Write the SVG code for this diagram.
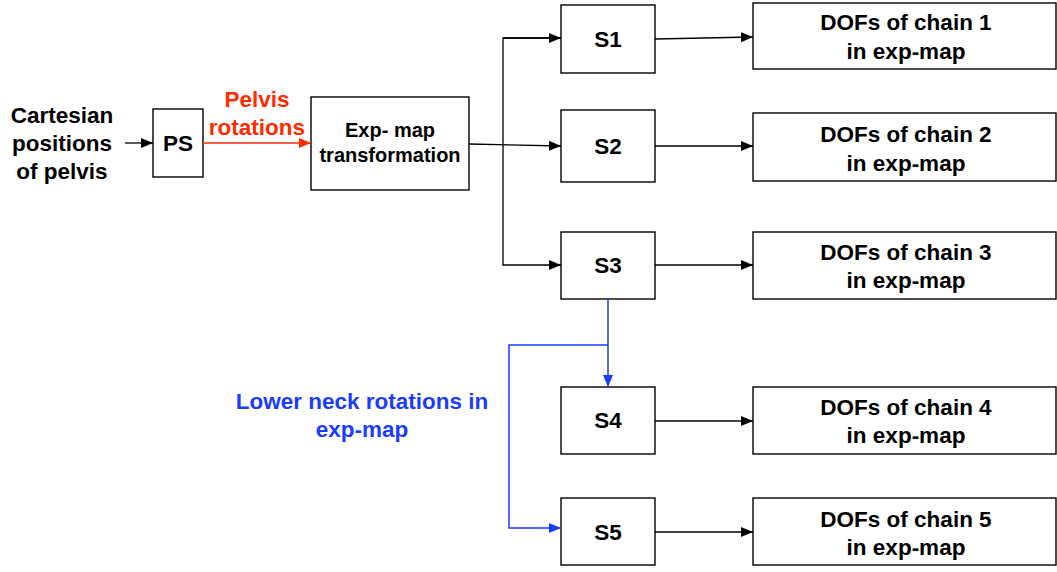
<svg xmlns="http://www.w3.org/2000/svg" width="1057" height="572" viewBox="0 0 1057 572">
<style>
.box{fill:#fff;stroke:#000;stroke-width:1.4}
.t{font-family:"Liberation Sans",Arial,sans-serif;font-weight:bold;font-size:22.5px;text-anchor:middle;fill:#000}
.c{fill:none;stroke:#000;stroke-width:1.3}
.r{fill:none;stroke:#ff2a00;stroke-width:1.5}
.b{fill:none;stroke:#1a3cff;stroke-width:1.5}
</style>
<defs>
<marker id="ak" markerWidth="12" markerHeight="10" refX="12" refY="5" orient="auto" markerUnits="userSpaceOnUse"><path d="M0,0 L12,5 L0,10 Z" fill="#000"/></marker>
<marker id="ar" markerWidth="12" markerHeight="10" refX="12" refY="5" orient="auto" markerUnits="userSpaceOnUse"><path d="M0,0 L12,5 L0,10 Z" fill="#ff2a00"/></marker>
<marker id="ab" markerWidth="12" markerHeight="10" refX="12" refY="5" orient="auto" markerUnits="userSpaceOnUse"><path d="M0,0 L12,5 L0,10 Z" fill="#1a3cff"/></marker>
</defs>
<g id="input-label"><text class="t" x="62" y="123">Cartesian</text><text class="t" x="62" y="151">positions</text><text class="t" x="62" y="179">of pelvis</text></g>
<g id="PS"><rect class="box" x="153" y="109" width="50" height="68"/><text class="t" x="178" y="151">PS</text></g>
<g id="pelvis-label"><text class="t" x="257" y="107" style="fill:#ff2a00">Pelvis</text><text class="t" x="257" y="135" style="fill:#ff2a00">rotations</text></g>
<g id="expmap"><rect class="box" x="311" y="97" width="158" height="93"/><text class="t" x="390" y="137" style="font-size:20px">Exp- map</text><text class="t" x="390" y="162" style="font-size:20px">transformation</text></g>
<g id="S1"><rect class="box" x="561" y="5" width="94" height="68"/><text class="t" x="608" y="47">S1</text></g>
<g id="S2"><rect class="box" x="561" y="110" width="94" height="72"/><text class="t" x="608" y="154">S2</text></g>
<g id="S3"><rect class="box" x="561" y="232" width="94" height="67"/><text class="t" x="608" y="273">S3</text></g>
<g id="S4"><rect class="box" x="561" y="387" width="94" height="67"/><text class="t" x="608" y="428">S4</text></g>
<g id="S5"><rect class="box" x="561" y="498" width="94" height="67"/><text class="t" x="608" y="540">S5</text></g>
<g id="D1"><rect class="box" x="753" y="3" width="303" height="66"/><text class="t" x="906" y="30">DOFs of chain 1</text><text class="t" x="906" y="59">in exp-map</text></g>
<g id="D2"><rect class="box" x="753" y="113" width="303" height="68"/><text class="t" x="906" y="142">DOFs of chain 2</text><text class="t" x="906" y="171">in exp-map</text></g>
<g id="D3"><rect class="box" x="753" y="232" width="303" height="67"/><text class="t" x="906" y="260">DOFs of chain 3</text><text class="t" x="906" y="288">in exp-map</text></g>
<g id="D4"><rect class="box" x="753" y="387" width="303" height="67"/><text class="t" x="906" y="415">DOFs of chain 4</text><text class="t" x="906" y="443">in exp-map</text></g>
<g id="D5"><rect class="box" x="753" y="498" width="303" height="67"/><text class="t" x="906" y="527">DOFs of chain 5</text><text class="t" x="906" y="555">in exp-map</text></g>
<g id="neck-label"><text class="t" x="362" y="409" style="fill:#1a3cff">Lower neck rotations in</text><text class="t" x="362" y="437" style="fill:#1a3cff">exp-map</text></g>
<g id="connectors">
<path class="c" d="M125,143 H153" marker-end="url(#ak)"/>
<path class="r" d="M203,143 H311" marker-end="url(#ar)"/>
<path class="c" d="M469,144 L561,146" marker-end="url(#ak)"/>
<path class="c" d="M561,38 H503 V265 H561" marker-end="url(#ak)"/>
<path class="c" d="M503,38 H561" marker-end="url(#ak)"/>
<path class="c" d="M655,39 L753,37" marker-end="url(#ak)"/>
<path class="c" d="M655,146 H753" marker-end="url(#ak)"/>
<path class="c" d="M655,265 H753" marker-end="url(#ak)"/>
<path class="c" d="M655,421 H753" marker-end="url(#ak)"/>
<path class="c" d="M655,532 H753" marker-end="url(#ak)"/>
<path class="b" d="M608,299 V387" marker-end="url(#ab)"/>
<path class="b" d="M608,345 H509 V528 H561" marker-end="url(#ab)"/>
</g>
</svg>
